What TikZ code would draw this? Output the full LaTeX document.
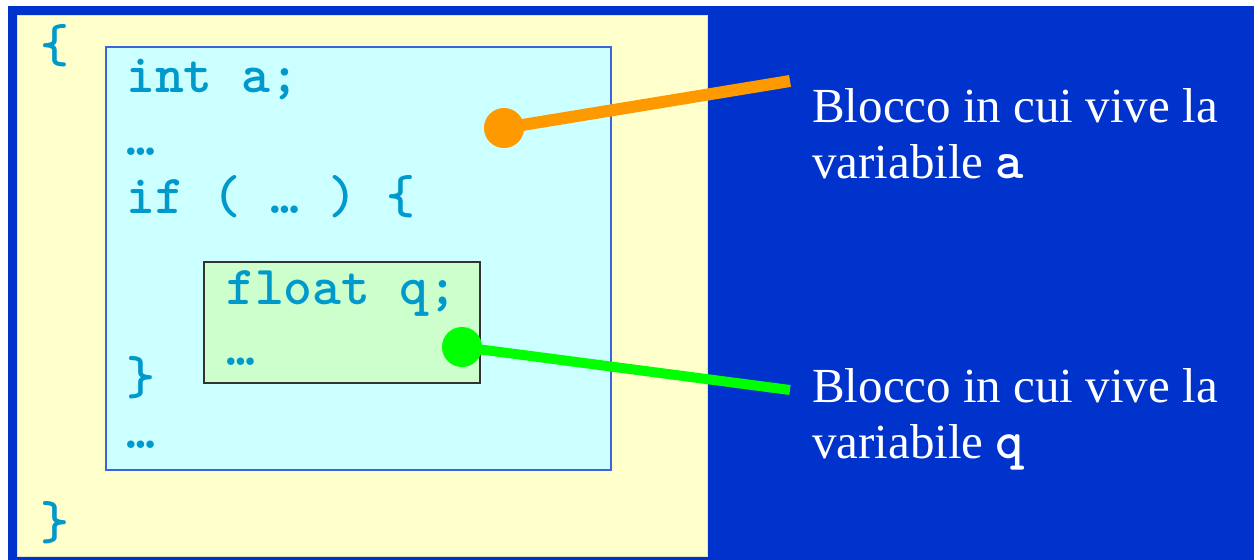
\documentclass[tikz,border=0pt]{standalone}
\usepackage{fontspec}
\setmainfont{Liberation Serif}
\definecolor{bgblue}{RGB}{0,51,204}
\definecolor{pale}{RGB}{255,255,204}
\definecolor{palecyan}{RGB}{204,255,255}
\definecolor{palegreen}{RGB}{204,255,204}
\definecolor{codecol}{RGB}{0,153,204}
\definecolor{cyanedge}{RGB}{60,100,220}
\definecolor{orangec}{RGB}{255,153,0}
\definecolor{greenc}{RGB}{0,255,0}
\tikzset{
  boxnode/.style={anchor=north west, inner sep=0pt, outer sep=0pt},
  code/.style={anchor=base west, inner sep=0pt, text=codecol, font=\ttfamily\bfseries\fontsize{55}{58}\selectfont},
  callout/.style={anchor=base west, inner sep=0pt, text=white, align=left, font=\fontsize{49}{56}\selectfont},
  dotnode/.style={circle, inner sep=0pt, minimum size=40pt},
}
\begin{document}
\begin{tikzpicture}[x=1pt,y=-1pt]
\useasboundingbox (0,0) rectangle (1254,560);
\fill[white] (0,0) rectangle (1254,560);
\fill[bgblue] (8,6) rectangle (1254,560);
\node[boxnode, fill=pale, draw=pale!80!gray, line width=0.8pt, minimum width=690pt, minimum height=541pt] (outer) at (17,15) {};
\node[boxnode, fill=palecyan, draw=cyanedge, line width=1.5pt, minimum width=505pt, minimum height=423pt] (blocka) at (106,47) {};
\node[boxnode, fill=palegreen, draw=black!80, line width=1.2pt, minimum width=276pt, minimum height=121pt] (blockq) at (204,262) {};
% code
\node[code] (lbrace) at (40,62) {\{};
\node[code] (inta) at (126,92) {int a;};
\node[code] (dots1) at (126,155) {…};
\node[code] (ifl) at (126,213) {if ( … ) \{};
\node[code] (floatq) at (226,304) {float q;};
\node[code] (dots2) at (226,365) {…};
\node[code] (rbrace1) at (126,394) {\}};
\node[code] (dots3) at (126,448) {…};
\node[code] (rbrace) at (40,539) {\}};
% callouts
\node[callout] (texta) at (812,178) {Blocco in cui vive la\\variabile {\ttfamily\bfseries\fontsize{54}{56}\selectfont a}};
\node[callout] (textq) at (812,458) {Blocco in cui vive la\\variabile {\ttfamily\bfseries\fontsize{54}{56}\selectfont q}};
% connectors
\coordinate (enda) at (790,81);
\coordinate (endq) at (790,390);
\node[dotnode, fill=orangec] (dota) at (504,128) {};
\node[dotnode, fill=greenc] (dotq) at (462,347) {};
\draw[orangec, line width=12pt] (dota.center) -- (enda);
\draw[greenc, line width=10pt] (dotq.center) -- (endq);
\end{tikzpicture}
\end{document}
